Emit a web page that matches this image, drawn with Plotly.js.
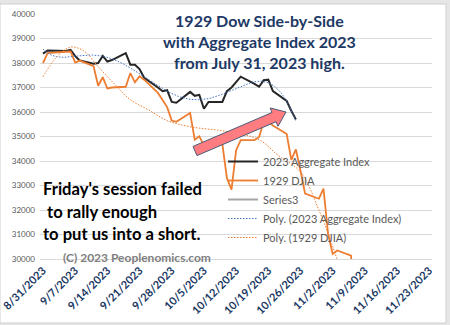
<!DOCTYPE html>
<html>
<head>
<meta charset="utf-8">
<script src="https://cdn.plot.ly/plotly-3.0.1.min.js"></script>
<style>html,body{margin:0;padding:0;background:#fff;}#chart{width:450px;height:325px;}</style>
</head>
<body>
<div id="chart"></div>
<script>
// ---- data ----
const dates = ['2023-08-31','2023-09-01','2023-09-05','2023-09-06','2023-09-07','2023-09-08',
  '2023-09-11','2023-09-12','2023-09-13','2023-09-14','2023-09-15',
  '2023-09-18','2023-09-19','2023-09-20','2023-09-21','2023-09-22',
  '2023-09-25','2023-09-26','2023-09-27','2023-09-28','2023-09-29',
  '2023-10-02','2023-10-03','2023-10-04','2023-10-05','2023-10-06',
  '2023-10-09','2023-10-10','2023-10-11','2023-10-12','2023-10-13',
  '2023-10-16','2023-10-17','2023-10-18','2023-10-19','2023-10-20',
  '2023-10-23','2023-10-24','2023-10-25','2023-10-26','2023-10-27',
  '2023-10-30','2023-10-31','2023-11-01','2023-11-02','2023-11-03',
  '2023-11-06','2023-11-07'];

const aggregate2023 = [38380,38510,38490,38540,38280,38100,37970,38000,38290,38060,38120,
  38400,37930,37930,37750,37400,37000,36850,36890,36410,36380,36820,36660,36700,36130,36410,
  36410,36850,37000,37230,37440,37150,37030,37300,37320,36850,36450,36050,35700];

const djia1929 = [38000,38400,38460,38470,38020,38100,37870,37070,37420,36960,
  37000,37030,37590,37210,37460,37320,36780,36510,36200,35650,
  35600,35960,34870,35010,34640,34600,34700,33300,32830,34440,
  34850,34850,34980,35600,35600,35450,35100,34050,34470,33600,
  32670,32460,32870,31030,30210,30350,30140,26300];

const series3 = [null];

// "Poly. (1929 DJIA)" trendline
const trend1929Dates = ['2023-08-31','2023-09-03','2023-09-06','2023-09-09','2023-09-12','2023-09-16',
  '2023-09-19','2023-09-23','2023-09-27','2023-10-02','2023-10-10','2023-10-17','2023-10-21',
  '2023-10-26','2023-10-30','2023-11-03','2023-11-05'];
const trend1929Values = [37440,38250,38650,38480,37850,37050,36500,36080,35650,35400,35200,34870,
  34250,33550,32000,29950,28500];

const tickDates = ['2023-08-31','2023-09-07','2023-09-14','2023-09-21','2023-09-28','2023-10-05',
  '2023-10-12','2023-10-19','2023-10-26','2023-11-02','2023-11-09','2023-11-16','2023-11-23'];
const tickLabels = ['8/31/2023','9/7/2023','9/14/2023','9/21/2023','9/28/2023','10/5/2023',
  '10/12/2023','10/19/2023','10/26/2023','11/2/2023','11/9/2023','11/16/2023','11/23/2023'];

const seriesNames = ['2023 Aggregate Index','1929 DJIA','Series3',
  'Poly. (2023 Aggregate Index)','Poly. (1929 DJIA)'];

// ---- polynomial trendline (least squares) for the 2023 series ----
const DAY = 86400000;
function polyTrend(xd, ys, order) {
  const t0 = Date.parse(xd[0] + 'T00:00:00Z');
  const ds = xd.slice(0, ys.length).map(s => (Date.parse(s + 'T00:00:00Z') - t0) / DAY);
  const dmax = ds[ds.length - 1], mid = dmax / 2, half = dmax / 2;
  const n = order + 1;
  const A = Array.from({length: n}, () => new Array(n + 1).fill(0));
  ds.forEach((d, k) => {
    const t = (d - mid) / half;
    for (let i = 0; i < n; i++) {
      for (let j = 0; j < n; j++) A[i][j] += Math.pow(t, i + j);
      A[i][n] += ys[k] * Math.pow(t, i);
    }
  });
  for (let c = 0; c < n; c++) {
    let p = c;
    for (let r = c + 1; r < n; r++) if (Math.abs(A[r][c]) > Math.abs(A[p][c])) p = r;
    [A[c], A[p]] = [A[p], A[c]];
    for (let r = 0; r < n; r++) {
      if (r === c) continue;
      const f = A[r][c] / A[c][c];
      for (let k = c; k <= n; k++) A[r][k] -= f * A[c][k];
    }
  }
  const coef = A.map((row, i) => row[n] / row[i]);
  const xs = [], yv = [];
  for (let d = 0; d <= dmax + 1e-9; d += 0.25) {
    const t = (d - mid) / half;
    let v = 0;
    for (let i = n - 1; i >= 0; i--) v = v * t + coef[i];
    xs.push(t0 + d * DAY);
    yv.push(v);
  }
  return {x: xs, y: yv};
}
const trendAgg = polyTrend(dates, aggregate2023, 6);

const traces = [
  {x: dates.slice(0, aggregate2023.length), y: aggregate2023, name: seriesNames[0], type: 'scatter', mode: 'lines',
   legendgroup: 'g1', line: {color: '#262626', width: 2}},
  {x: dates.slice(0, djia1929.length), y: djia1929, name: seriesNames[1], type: 'scatter', mode: 'lines',
   legendgroup: 'g2', line: {color: '#ED7D31', width: 1.8}},
  {x: dates.slice(0, series3.length), y: series3, name: seriesNames[2], type: 'scatter', mode: 'lines',
   legendgroup: 'g3', line: {color: '#A5A5A5', width: 2}},
  {x: trendAgg.x, y: trendAgg.y, name: seriesNames[3], type: 'scatter', mode: 'lines',
   legendgroup: 'g4', line: {color: '#4472C4', width: 1, dash: '1.5px,1.5px'}},
  {x: trend1929Dates, y: trend1929Values, name: seriesNames[4], type: 'scatter', mode: 'lines',
   legendgroup: 'g5', line: {color: '#ED7D31', width: 1, dash: '1.5px,1.5px', shape: 'spline', smoothing: 1}}
];

// pixel -> paper helpers for decorations
const L = 40, T = 14, W = 392, H = 245;
const px = p => (p - L) / W;
const py = p => (T + H - p) / H;

// block arrow (pixel geometry)
const tail = [195, 151], tip = [286, 112];
const len = Math.hypot(tip[0] - tail[0], tip[1] - tail[1]);
const u = [(tip[0] - tail[0]) / len, (tip[1] - tail[1]) / len];
const nv = [-u[1], u[0]];
const bw = 5, hw = 10, hl = 13;
const pt = (a, b) => [tail[0] + a * u[0] + b * nv[0], tail[1] + a * u[1] + b * nv[1]];
const arrowPts = [pt(0, -bw), pt(len - hl, -bw), pt(len - hl, -hw), tip, pt(len - hl, hw), pt(len - hl, bw), pt(0, bw)];
const arrowPath = 'M' + arrowPts.map(p => px(p[0]).toFixed(4) + ',' + py(p[1]).toFixed(4)).join(' L') + ' Z';

const noteFont = {family: 'Lato, sans-serif', size: 16.6, color: '#000000', weight: 'bold'};
const titleFont = {family: 'Lato, sans-serif', size: 16, color: '#203864', weight: 'bold'};

const layout = {
  width: 450, height: 325,
  margin: {l: L, r: 450 - L - W, t: T, b: 325 - T - H},
  paper_bgcolor: '#e6e6e6',
  plot_bgcolor: 'rgba(0,0,0,0)',
  font: {family: 'Lato, "Open Sans", sans-serif', color: '#595959'},
  showlegend: true,
  xaxis: {
    type: 'date',
    range: ['2023-08-30 08:24', '2023-11-23 14:24'],
    tickmode: 'array', tickvals: tickDates, ticktext: tickLabels,
    tickangle: -45,
    tickfont: {family: 'Lato, sans-serif', size: 11, color: '#203864', weight: 'bold'},
    showgrid: false, showline: true, linecolor: '#d9d9d9', linewidth: 1,
    ticks: '', zeroline: false, fixedrange: true
  },
  yaxis: {
    range: [30000, 40000],
    tickmode: 'linear', tick0: 30000, dtick: 1000,
    tickformat: 'd',
    tickfont: {family: 'Lato, sans-serif', size: 8, color: '#595959'},
    showgrid: true, gridcolor: '#d9d9d9', gridwidth: 1,
    showline: false, zeroline: false, ticks: '', ticklabelstandoff: 4, fixedrange: true
  },
  legend: {
    x: px(223), y: py(147), xanchor: 'left', yanchor: 'top',
    bgcolor: 'rgba(0,0,0,0)', borderwidth: 0,
    font: {family: 'Lato, sans-serif', size: 11, color: '#595959'},
    tracegroupgap: 1.6, traceorder: 'normal'
  },
  shapes: [
    {type: 'rect', xref: 'paper', yref: 'paper', layer: 'below',
     x0: px(0), x1: px(446), y0: py(323), y1: py(4),
     fillcolor: '#ffffff', line: {color: '#d0d0d0', width: 1}},
    {type: 'path', xref: 'paper', yref: 'paper', layer: 'above', path: arrowPath,
     fillcolor: '#FF7C80', line: {color: '#4a5a78', width: 1}}
  ],
  annotations: [
    {xref: 'paper', yref: 'paper', x: px(259), y: py(41), xanchor: 'center', yanchor: 'middle', align: 'center',
     showarrow: false, text: '1929 Dow Side-by-Side<br>with Aggregate Index 2023<br>from July 31, 2023 high.',
     font: titleFont},
    {xref: 'paper', yref: 'paper', x: px(41), y: py(189), xanchor: 'left', yanchor: 'middle',
     showarrow: false, text: "Friday's session failed", font: noteFont},
    {xref: 'paper', yref: 'paper', x: px(41), y: py(212), xanchor: 'left', yanchor: 'middle',
     showarrow: false, text: '\u00a0to rally enough', font: noteFont},
    {xref: 'paper', yref: 'paper', x: px(41), y: py(234), xanchor: 'left', yanchor: 'middle',
     showarrow: false, text: 'to put us into a short.', font: noteFont},
    {xref: 'paper', yref: 'paper', x: px(137), y: py(257), xanchor: 'center', yanchor: 'middle',
     showarrow: false, text: '(C) 2023 Peoplenomics.com',
     font: {family: 'Lato, sans-serif', size: 12, color: '#808080', weight: 'bold'}}
  ]
};

Plotly.newPlot('chart', traces, layout, {displayModeBar: false, staticPlot: true});
</script>
</body>
</html>
